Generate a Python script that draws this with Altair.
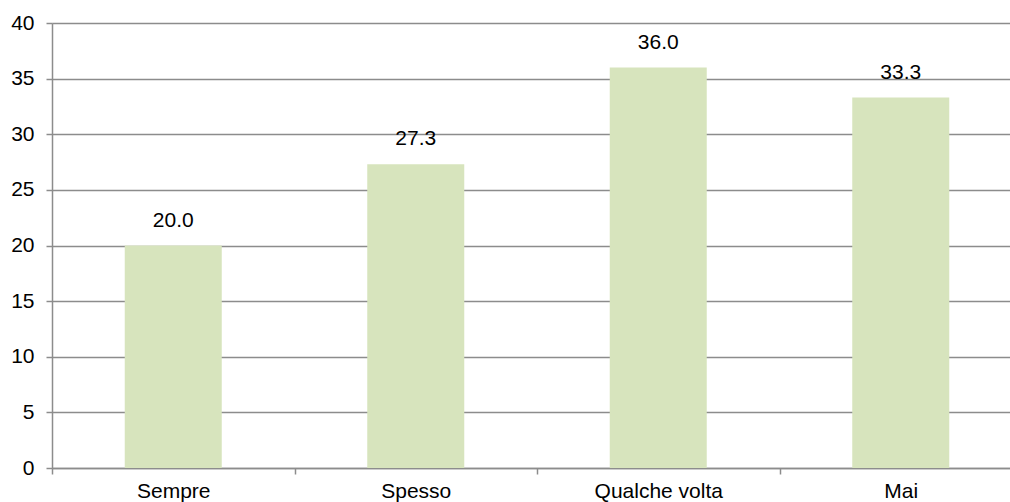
import altair as alt
import pandas as pd

categories = ["Sempre", "Spesso", "Qualche volta", "Mai"]
values = [20.0, 27.3, 36.0, 33.3]

df = pd.DataFrame({"categoria": categories, "valore": values})
df["etichetta"] = [f"{v:.1f}" for v in values]

FONT = "Liberation Sans"
GRID = "#8c8c8c"
SIZE = 21

x = alt.X(
    "categoria:N",
    sort=categories,
    scale=alt.Scale(range=[0, 970], paddingInner=0, paddingOuter=0),
    axis=alt.Axis(
        title=None, labelAngle=0, labelFontSize=SIZE, labelFont=FONT,
        labelColor="#000000", domainColor=GRID, domainWidth=1.5,
        tickColor=GRID, tickWidth=1.5, tickSize=6, tickBand="extent",
        labelPadding=6, grid=False,
    ),
)
y = alt.Y(
    "valore:Q",
    scale=alt.Scale(domain=[0, 40], nice=False),
    axis=alt.Axis(
        title=None, values=list(range(0, 41, 5)), labelFontSize=SIZE,
        labelFont=FONT, labelColor="#000000", domainColor=GRID,
        domainWidth=1.5, tickColor=GRID, tickWidth=1.5, tickSize=6,
        labelPadding=12, gridColor=GRID, gridWidth=1.5,
    ),
)

bars = alt.Chart(df).mark_bar(
    color="#D7E4BD", width=alt.RelativeBandSize(0.4)
).encode(x=x, y=y)
labels = alt.Chart(df).mark_text(
    dy=-25, fontSize=SIZE, font=FONT, color="#000000", baseline="middle"
).encode(x=x, y=y, text="etichetta:N")

chart = (
    alt.layer(bars, labels)
    .properties(
        width=958, height=445,
        autosize=alt.AutoSizeParams(type="none"),
        padding={"left": 52, "top": 23, "right": 0, "bottom": 34},
    )
    .configure_view(stroke=None)
    .configure(background="#ffffff")
)

chart.save("out.html", embed_options={"renderer": "svg", "actions": False})
